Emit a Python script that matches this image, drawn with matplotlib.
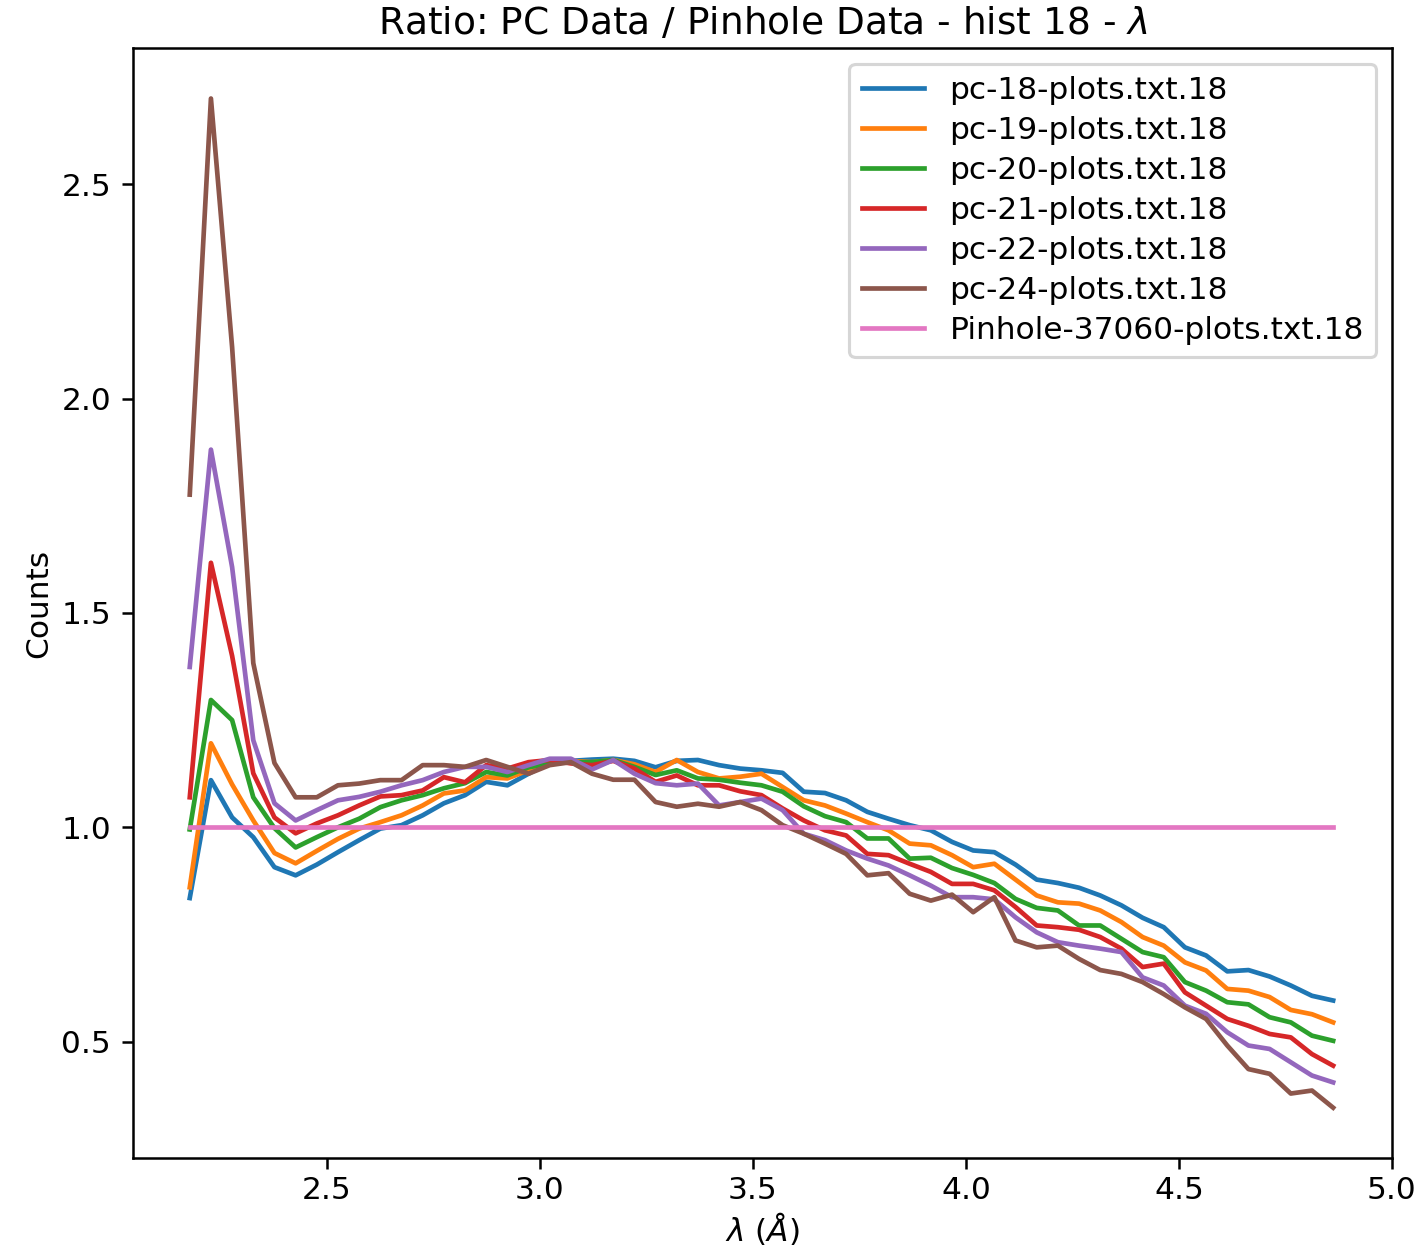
"""
Ratio of PC data to pinhole data, histogram 18, vs wavelength.
"""

import matplotlib
matplotlib.use("Agg")
import matplotlib.pyplot as plt
import numpy as np

# wavelength bins (Angstrom), 55 evenly spaced bin centres
wavelength = np.linspace(2.178, 4.862, 55)

pc_18 = [0.835, 1.110, 1.023, 0.977, 0.907, 0.888, 0.913, 0.942, 0.970, 0.997,
         1.005, 1.028, 1.056, 1.075, 1.106, 1.098, 1.125, 1.151, 1.155, 1.158,
         1.160, 1.155, 1.140, 1.155, 1.157, 1.145, 1.137, 1.133, 1.127, 1.083,
         1.080, 1.063, 1.036, 1.020, 1.005, 0.993, 0.966, 0.946, 0.942, 0.913,
         0.878, 0.870, 0.859, 0.841, 0.818, 0.789, 0.767, 0.720, 0.701, 0.664,
         0.667, 0.652, 0.631, 0.607, 0.596]
pc_19 = [0.860, 1.196, 1.100, 1.016, 0.940, 0.916, 0.945, 0.973, 0.997, 1.012,
         1.028, 1.051, 1.079, 1.086, 1.117, 1.114, 1.133, 1.149, 1.155, 1.152,
         1.157, 1.147, 1.129, 1.157, 1.129, 1.114, 1.118, 1.125, 1.094, 1.063,
         1.051, 1.032, 1.012, 0.993, 0.962, 0.958, 0.935, 0.907, 0.915, 0.878,
         0.841, 0.825, 0.822, 0.806, 0.779, 0.744, 0.724, 0.685, 0.666, 0.623,
         0.619, 0.604, 0.574, 0.564, 0.545]
pc_20 = [0.995, 1.297, 1.250, 1.070, 0.998, 0.953, 0.977, 1.000, 1.020, 1.047,
         1.063, 1.075, 1.091, 1.103, 1.129, 1.121, 1.140, 1.149, 1.152, 1.152,
         1.157, 1.141, 1.122, 1.133, 1.114, 1.111, 1.104, 1.098, 1.083, 1.049,
         1.026, 1.012, 0.974, 0.974, 0.927, 0.929, 0.905, 0.889, 0.870, 0.833,
         0.812, 0.806, 0.771, 0.771, 0.740, 0.709, 0.697, 0.639, 0.619, 0.592,
         0.587, 0.557, 0.545, 0.514, 0.502]
pc_21 = [1.070, 1.617, 1.400, 1.126, 1.023, 0.986, 1.009, 1.028, 1.051, 1.072,
         1.075, 1.086, 1.117, 1.105, 1.145, 1.137, 1.152, 1.157, 1.149, 1.145,
         1.155, 1.137, 1.106, 1.121, 1.098, 1.098, 1.084, 1.075, 1.044, 1.016,
         0.993, 0.981, 0.938, 0.935, 0.915, 0.896, 0.868, 0.868, 0.853, 0.814,
         0.771, 0.767, 0.761, 0.744, 0.717, 0.674, 0.682, 0.615, 0.584, 0.553,
         0.537, 0.518, 0.510, 0.471, 0.444]
pc_22 = [1.374, 1.881, 1.607, 1.203, 1.056, 1.016, 1.040, 1.063, 1.071, 1.083,
         1.098, 1.110, 1.129, 1.141, 1.141, 1.129, 1.145, 1.160, 1.160, 1.135,
         1.157, 1.125, 1.103, 1.098, 1.102, 1.051, 1.059, 1.067, 1.040, 0.985,
         0.970, 0.946, 0.927, 0.911, 0.888, 0.864, 0.837, 0.837, 0.832, 0.790,
         0.755, 0.732, 0.724, 0.717, 0.709, 0.650, 0.631, 0.584, 0.565, 0.522,
         0.491, 0.483, 0.452, 0.421, 0.405]
pc_24 = [1.776, 2.700, 2.120, 1.383, 1.150, 1.070, 1.070, 1.098, 1.102, 1.110,
         1.110, 1.145, 1.145, 1.141, 1.157, 1.141, 1.125, 1.145, 1.152, 1.125,
         1.111, 1.111, 1.059, 1.048, 1.055, 1.048, 1.059, 1.040, 1.005, 0.985,
         0.962, 0.938, 0.888, 0.893, 0.845, 0.829, 0.843, 0.802, 0.837, 0.736,
         0.720, 0.724, 0.693, 0.667, 0.658, 0.639, 0.611, 0.580, 0.553, 0.491,
         0.436, 0.425, 0.379, 0.386, 0.346]
pinhole = [1.0] * len(wavelength)

labels = ["pc-18-plots.txt.18", "pc-19-plots.txt.18", "pc-20-plots.txt.18",
          "pc-21-plots.txt.18", "pc-22-plots.txt.18", "pc-24-plots.txt.18",
          "Pinhole-37060-plots.txt.18"]


def main():
    """Main"""
    fig = plt.figure(figsize=(1416 / 225, 1248 / 225), dpi=225)
    ax = fig.add_subplot(111)
    fig.subplots_adjust(left=0.094, right=0.983, bottom=0.072, top=0.9615)

    for series, name in zip([pc_18, pc_19, pc_20, pc_21, pc_22, pc_24, pinhole], labels):
        ax.plot(wavelength, series, label=name)

    ax.set_xlim(2.045, 5.0)
    ax.tick_params(axis="x", pad=2.2)
    ax.set_title(r"Ratio: PC Data / Pinhole Data - hist 18 - $\lambda$", pad=4.4)
    ax.set_xlabel(r"$\lambda$ ($\AA$)", labelpad=1.5)
    ax.set_ylabel("Counts", labelpad=2.5)
    ax.legend(loc="upper right", labelspacing=0.35)
    fig.savefig("out.png", dpi=225)


if __name__ == "__main__":
    main()
